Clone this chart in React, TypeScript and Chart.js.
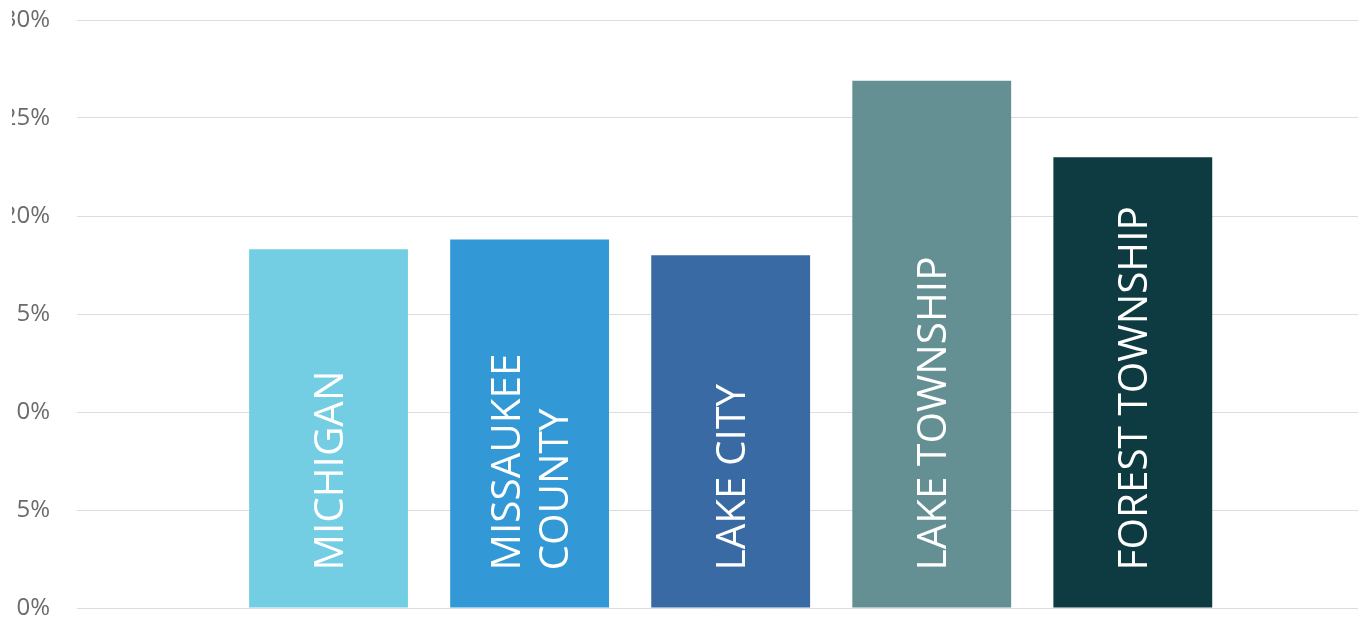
import React, { useEffect, useRef } from "react";
import { Chart, registerables } from "chart.js";

Chart.register(...registerables);

const categories = ["MICHIGAN", "MISSAUKEE\nCOUNTY", "LAKE CITY", "LAKE TOWNSHIP", "FOREST TOWNSHIP"];
const values = [18.3, 18.8, 18.0, 26.9, 23.0];
const barColors = ["#74cee3", "#3399d6", "#3a6aa4", "#649094", "#0e3b41"];
const yTicks = [0, 5, 10, 15, 20, 25, 30];

const FONT = "'Open Sans', 'Noto Sans', sans-serif";

const barLabelPlugin = {
  id: "barLabels",
  afterDatasetsDraw(chart: any) {
    const ctx = chart.ctx;
    const meta = chart.getDatasetMeta(0);
    const size = 40.5;
    const cap = size * 0.714;
    const lineGap = 48;
    meta.data.forEach((bar: any, i: number) => {
      const lines = categories[i].split("\n");
      ctx.save();
      ctx.translate(bar.x, bar.base - 37);
      ctx.rotate(-Math.PI / 2);
      ctx.fillStyle = "#ffffff";
      ctx.font = `${size}px ${FONT}`;
      ctx.textAlign = "left";
      ctx.textBaseline = "alphabetic";
      lines.forEach((line: string, j: number) => {
        const off = (j - (lines.length - 1) / 2) * lineGap;
        ctx.fillText(line, 0, off + cap / 2);
      });
      ctx.restore();
    });
  },
};

// the source picture cuts the y-axis labels at its left edge
const leftCropPlugin = {
  id: "leftCrop",
  afterDraw(chart: any) {
    chart.ctx.clearRect(0, 0, 11.5, chart.height);
  },
};

export default function App() {
  const ref = useRef<HTMLCanvasElement | null>(null);
  useEffect(() => {
    let chart: Chart | null = null;
    let cancelled = false;
    const timers: number[] = [];
    const make = () => {
      if (cancelled || !ref.current) return;
      if (chart) {
        chart.update("none");
        return;
      }
      chart = new Chart(ref.current, {
        type: "bar",
        data: {
          datasets: [
            {
              data: values.map((v, i) => ({ x: i, y: v })),
              backgroundColor: barColors,
              borderWidth: 0,
              barPercentage: 1,
              categoryPercentage: 0.79,
            },
          ],
        },
        options: {
          animation: false,
          responsive: false,
          layout: { padding: { top: 20, bottom: 12, left: 0, right: 2 } },
          plugins: { legend: { display: false }, tooltip: { enabled: false } },
          scales: {
            x: {
              type: "linear",
              display: false,
              offset: false,
              min: -1.251,
              max: 5.12,
            },
            y: {
              min: 0,
              max: 30,
              afterBuildTicks: (scale: any) => {
                scale.ticks = yTicks.map((v) => ({ value: v }));
              },
              afterFit: (scale: any) => {
                scale.width = 77;
                scale.paddingTop = 0;
                scale.paddingBottom = 0;
              },
              border: { display: false },
              grid: { color: "#dddddd", lineWidth: 1, drawTicks: false },
              ticks: {
                padding: 27,
                color: "#6b6b6b",
                font: { family: FONT, size: 24 },
                callback: (v: any) => `${v}%`,
              },
            },
          },
        },
        plugins: [barLabelPlugin, leftCropPlugin],
      } as any);
    };
    make();
    const fontsApi: any = (document as any).fonts;
    if (fontsApi && fontsApi.load) {
      Promise.all([fontsApi.load(`24px 'Open Sans'`), fontsApi.load(`40px 'Open Sans'`)])
        .catch(() => {})
        .then(make);
      if (fontsApi.ready) fontsApi.ready.then(make);
    }
    [50, 200, 500, 1000].forEach((t) => timers.push(window.setTimeout(make, t)));
    return () => {
      cancelled = true;
      timers.forEach((t) => clearTimeout(t));
      if (chart) chart.destroy();
    };
  }, []);
  return (
    <div style={{ position: "absolute", left: 0, top: 0, width: 1360, height: 620, background: "#fff" }}>
      <span
        aria-hidden="true"
        style={{ position: "absolute", left: -9999, top: 0, fontFamily: FONT, fontSize: 24 }}
      >
        MICHIGAN 0%
      </span>
      <canvas ref={ref} width={1360} height={620} style={{ display: "block" }} />
    </div>
  );
}
